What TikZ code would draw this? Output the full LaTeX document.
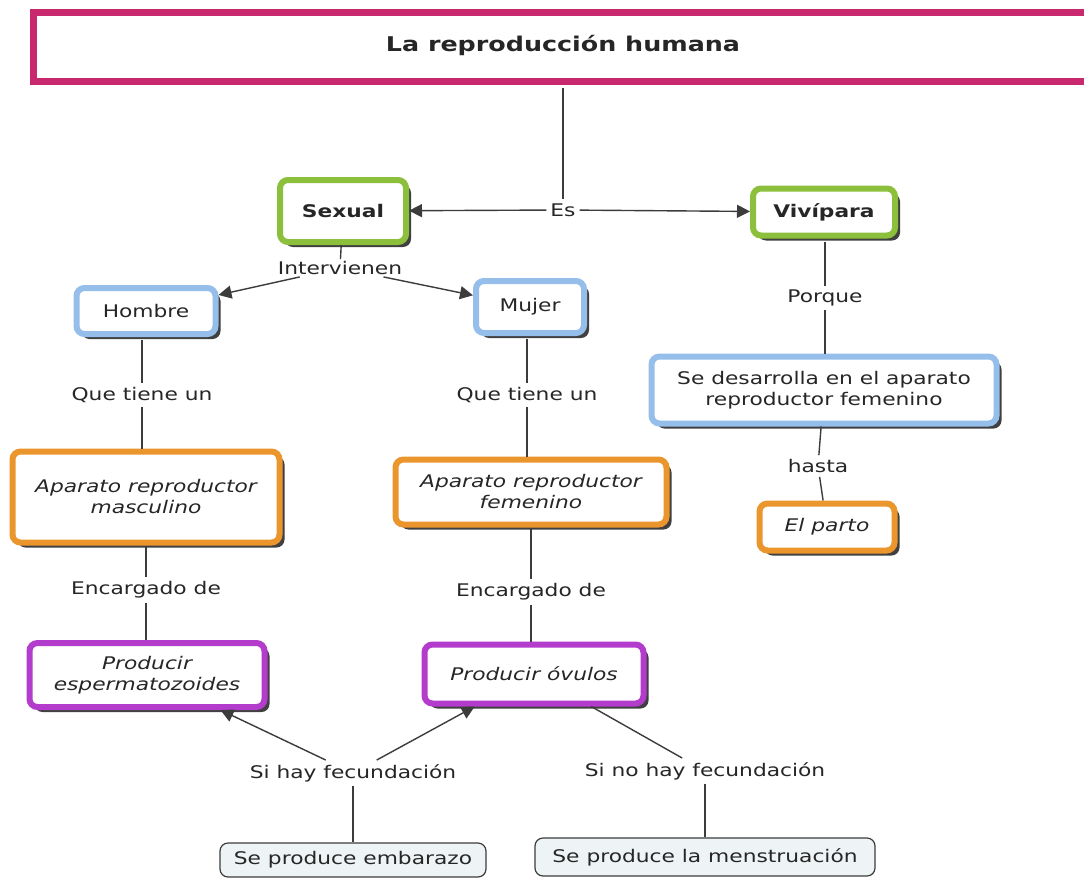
\documentclass[tikz,border=0pt]{standalone}
\usepackage{fontspec}
\setmainfont{DejaVu Sans}[FakeStretch=1.25]
\usetikzlibrary{shadows,arrows.meta}
\definecolor{pinkc}{RGB}{200,40,110}
\definecolor{greenc}{RGB}{140,192,60}
\definecolor{bluec}{RGB}{150,190,235}
\definecolor{orangec}{RGB}{235,150,45}
\definecolor{purplec}{RGB}{180,60,205}
\definecolor{grayfill}{RGB}{238,243,245}
\definecolor{linec}{RGB}{60,60,60}
\tikzset{
  x=1pt, y=-1pt,
  every node/.style={font=\fontsize{17.4}{21}\selectfont, text=black!85},
  cbox/.style={draw=#1, rounded corners=8pt, line width=6pt, fill=white, align=center, inner sep=2pt,
     general shadow={shadow xshift=5pt, shadow yshift=-5pt, fill=black!75}},
  graybox/.style={draw=linec, rounded corners=8pt, line width=1.2pt, fill=grayfill, align=center, inner sep=2pt},
  lbl/.style={fill=white, inner sep=4pt},
  conn/.style={draw=linec, line width=1.4pt},
  arr/.style={conn, -{Triangle[length=13pt,width=13pt]}},
}
\begin{document}
\begin{tikzpicture}
\useasboundingbox (0,0) rectangle (1084,878);
\fill[white] (0,0) rectangle (1084,878);
% title
\node[draw=pinkc, line width=7pt, fill=white, minimum width=1058pt, minimum height=69pt, inner sep=0pt] (title) at (562,47) {};
\node[font=\fontsize{20.3}{24}\selectfont\bfseries] (titletext) at (563,45) {La reproducción humana};
% boxes
\node[cbox=greenc, minimum width=126pt, minimum height=62pt, font=\fontsize{17.4}{21}\selectfont\bfseries] (sexual) at (343,211) {Sexual};
\node[cbox=greenc, minimum width=142pt, minimum height=47pt, font=\fontsize{17.4}{21}\selectfont\bfseries] (vivipara) at (824,212) {Vivípara};
\node[cbox=bluec, minimum width=139pt, minimum height=46pt] (hombre) at (146,311) {Hombre};
\node[cbox=bluec, minimum width=108pt, minimum height=52pt] (mujer) at (530,307) {Mujer};
\node[cbox=bluec, minimum width=345pt, minimum height=67pt] (desarrolla) at (824,390) {Se desarrolla en el aparato\\reproductor femenino};
\node[cbox=orangec, minimum width=267pt, minimum height=91pt, font=\fontsize{17.4}{21}\selectfont\itshape] (apmasc) at (146,497) {Aparato reproductor\\masculino};
\node[cbox=orangec, minimum width=271pt, minimum height=65pt, font=\fontsize{17.4}{21}\selectfont\itshape] (apfem) at (531,492) {Aparato reproductor\\femenino};
\node[cbox=orangec, minimum width=135pt, minimum height=47pt, font=\fontsize{17.4}{21}\selectfont\itshape] (parto) at (827,527) {El parto};
\node[cbox=purplec, minimum width=235pt, minimum height=64pt, font=\fontsize{17.4}{21}\selectfont\itshape] (prodesp) at (147,675) {Producir\\espermatozoides};
\node[cbox=purplec, minimum width=219pt, minimum height=59pt, font=\fontsize{17.4}{21}\selectfont\itshape] (prodov) at (534,674) {Producir óvulos};
\node[graybox, minimum width=266pt, minimum height=34pt] (embarazo) at (353,860) {Se produce embarazo};
\node[graybox, minimum width=340pt, minimum height=38pt] (menstr) at (705,857) {Se produce la menstruación};
% labels
\node[lbl] (es) at (563,210) {Es};
\node[lbl, inner sep=2pt] (intervienen) at (340,268) {Intervienen};
\node[lbl] (qt1) at (142,395) {Que tiene un};
\node[lbl] (qt2) at (527,395) {Que tiene un};
\node[lbl] (porque) at (825,298) {Porque};
\node[lbl] (hasta) at (818,466) {hasta};
\node[lbl] (enc1) at (146,590) {Encargado de};
\node[lbl] (enc2) at (531,592) {Encargado de};
\node[lbl] (sihay) at (353,773) {Si hay fecundación};
\node[lbl] (sinohay) at (705,771) {Si no hay fecundación};
% connectors
\draw[conn] (es |- title.south) ++(0,3) -- (es);
\draw[arr] (es) -- (sexual);
\draw[arr] (es) -- (vivipara);
\draw[conn] (sexual) -- (intervienen);
\draw[arr] (intervienen) -- (hombre);
\draw[arr] (intervienen) -- (mujer);
\draw[conn] (hombre.south -| qt1) ++(0,3) -- (qt1);
\draw[conn] (qt1) -- (qt1 |- apmasc.north);
\draw[conn] (mujer.south -| qt2) ++(0,3) -- (qt2);
\draw[conn] (qt2) -- (qt2 |- apfem.north);
\draw[conn] (apmasc) -- (enc1);
\draw[conn] (enc1) -- (enc1 |- prodesp.north);
\draw[conn] (apfem) -- (enc2);
\draw[conn] (enc2) -- (enc2 |- prodov.north);
\draw[conn] (vivipara.south -| porque) ++(0,3) -- (porque);
\draw[conn] (porque) -- (porque |- desarrolla.north);
\draw[conn] (desarrolla) -- (hasta);
\draw[conn] (hasta) -- (parto);
\draw[arr] (sihay) -- (prodesp);
\draw[arr] (sihay) -- (prodov);
\draw[conn] (sihay) -- (sihay |- embarazo.north);
\draw[conn] (prodov) -- (sinohay);
\draw[conn] (sinohay) -- (sinohay |- menstr.north);
\end{tikzpicture}
\end{document}
